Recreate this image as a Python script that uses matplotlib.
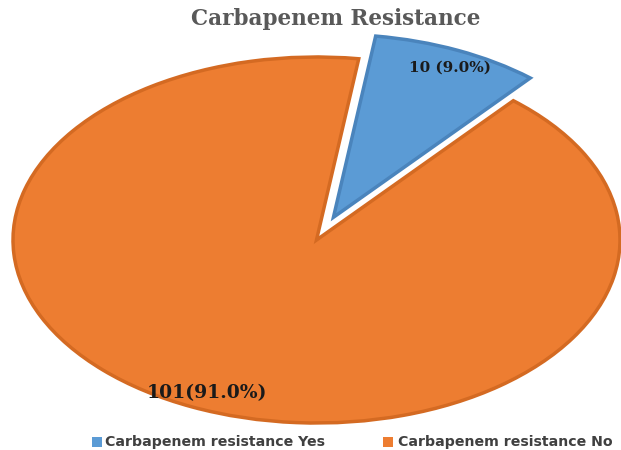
import matplotlib
matplotlib.use("Agg")
import matplotlib.pyplot as plt

categories = ["Carbapenem resistance Yes", "Carbapenem resistance No"]
counts = [10, 101]
percents = [9.0, 91.0]
colors = ["#5B9BD5", "#ED7D31"]
edge_colors = ["#4A84BC", "#D46A22"]
title = "Carbapenem Resistance"

W, H = 621, 450
fig = plt.figure(figsize=(W / 100, H / 100), dpi=100)
fig.patch.set_facecolor("white")

# pie axes stretched to match the elliptical look
left, right, top, bottom = 13, 620, 57, 423
ax = fig.add_axes([left / W, (H - bottom) / H, (right - left) / W, (bottom - top) / H])

wedges, _ = ax.pie(counts, colors=colors, explode=[0.136, 0], startangle=82,
                   counterclock=False, radius=1,
                   wedgeprops=dict(linewidth=2.5))
for w, ec in zip(wedges, edge_colors):
    w.set_edgecolor(ec)
    w.set_clip_on(False)
ax.set_xlim(-1, 1)
ax.set_ylim(-1, 1)
ax.set_aspect("auto")
ax.axis("off")

# data labels
lab_font = dict(family="DejaVu Serif", weight="bold", color="#1a1a1a")
fig.text(450 / W, 1 - 68 / H, f"{counts[0]} ({percents[0]:.1f}%)", ha="center", va="center",
         fontsize=11, **lab_font)
fig.text(207 / W, 1 - 393 / H, f"{counts[1]}({percents[1]:.1f}%)", ha="center", va="center",
         fontsize=13.5, **lab_font)

# title
fig.text(336 / W, 1 - 19 / H, title, ha="center", va="center", fontsize=15.5,
         family="DejaVu Serif", weight="bold", color="#595959")

# legend
leg_y = 1 - 442 / H
for x_sq, x_txt, c, name in [(92, 105, colors[0], categories[0]), (383, 398, colors[1], categories[1])]:
    fig.patches.append(plt.Rectangle((x_sq / W, 1 - 447 / H), 10 / W, 10 / H,
                                     transform=fig.transFigure, facecolor=c, edgecolor="none"))
    fig.text(x_txt / W, leg_y, name, ha="left", va="center", fontsize=10.2,
             family="DejaVu Sans", weight="bold", color="#404040")

fig.savefig("out.png", dpi=100)
